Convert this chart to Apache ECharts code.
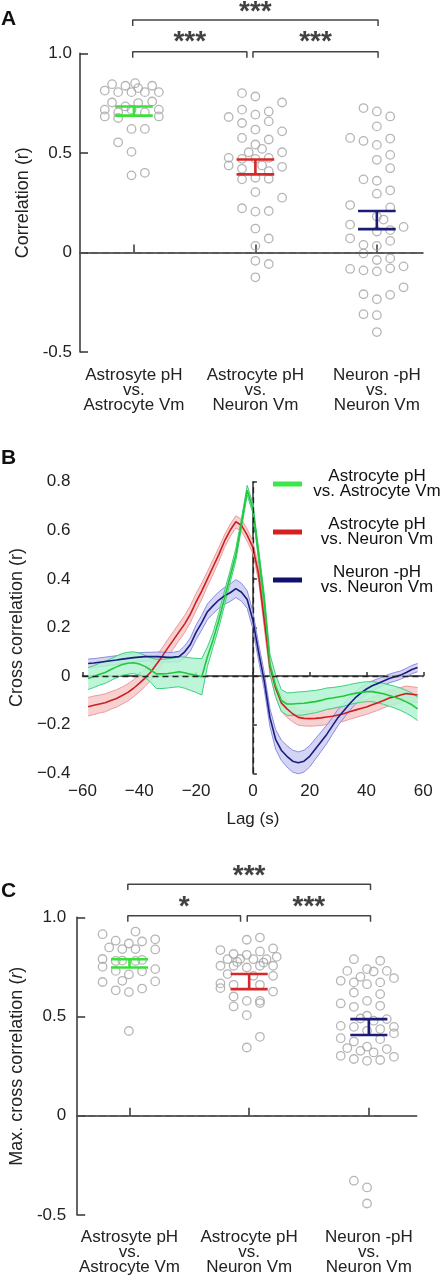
<!DOCTYPE html>
<html><head><meta charset="utf-8">
<script src="https://cdn.jsdelivr.net/npm/echarts@6/dist/echarts.min.js"></script>
<style>html,body{margin:0;padding:0;background:#fff}#c{width:443px;height:1280px}</style>
</head><body><div id="c"></div>
<script>
// ---------- shared ----------
const categoryLabels = ['Astrosyte pH\nvs.\nAstrocyte Vm', 'Astrocyte pH\nvs.\nNeuron Vm', 'Neuron -pH\nvs.\nNeuron Vm'];
const categoryPositions = [1, 2, 3];
const meanColors = ['#3be03b', '#d62828', '#1c1c78'];

// ---------- Panel A: correlation (r); points as [category + jitter, r] ----------
const aAstroAstro = [[0.82,0.845],[0.93,0.837],[1.01,0.85],[1.15,0.837],[0.76,0.813],[0.87,0.805],[0.98,0.805],[1.035,0.825],[1.09,0.805],[1.205,0.805],
  [0.82,0.753],[0.93,0.733],[1.035,0.75],[1.15,0.758],[0.76,0.717],[0.76,0.683],[0.87,0.675],[0.87,0.703],[0.98,0.717],[1.09,0.703],[1.205,0.717],[1.205,0.683],
  [0.98,0.62],[1.09,0.62],[0.87,0.553],[0.98,0.505],[0.98,0.387],[1.09,0.40]];
const aAstroNeuron = [[1.89,0.80],[2,0.783],[2.22,0.753],[1.78,0.68],[1.89,0.717],[2,0.692],[2.11,0.708],[1.89,0.65],[2.11,0.658],[2,0.617],[2.22,0.608],
  [1.89,0.575],[2.11,0.567],[2,0.542],[2.055,0.52],[1.945,0.503],[2.22,0.503],[1.78,0.475],[1.89,0.47],[2,0.47],[2.11,0.475],[1.78,0.437],[2.055,0.437],
  [2.22,0.43],[1.89,0.42],[2.11,0.408],[1.89,0.367],[2,0.375],[2.11,0.37],[2,0.303],[2.22,0.275],[1.89,0.222],[2,0.205],[2.11,0.208],[2,0.12],[2.11,0.07],
  [2,0.033],[2,-0.042],[2.11,-0.058],[2,-0.125]];
const aNeuronNeuron = [[2.89,0.725],[3,0.708],[3.11,0.683],[3,0.633],[2.78,0.575],[2.89,0.56],[3,0.54],[3.11,0.572],[3.11,0.49],[3,0.465],[3.11,0.423],
  [2.89,0.367],[3,0.36],[3,0.295],[3.11,0.312],[2.78,0.238],[3.11,0.226],[3,0.18],[3.055,0.165],[2.78,0.14],[3,0.105],[3.11,0.112],[3.22,0.128],
  [2.78,0.071],[2.89,0.038],[3,0.033],[3.11,0.058],[2.89,-0.005],[3,-0.038],[3.11,-0.03],[2.78,-0.083],[2.89,-0.09],[3,-0.095],[3.11,-0.08],[3.22,-0.07],
  [2.89,-0.21],[3,-0.235],[3.11,-0.213],[3.22,-0.175],[2.89,-0.31],[3,-0.315],[3,-0.40]];
const aSemHigh = [0.733, 0.467, 0.208];
const aSemLow = [0.687, 0.392, 0.117];
const aBrackets = [
  {x1: 0.99, x2: 3.01, y: 1.167, text: '***'},
  {x1: 0.99, x2: 1.93, y: 1.008, text: '***'},
  {x1: 1.98, x2: 3.01, y: 1.008, text: '***'}
];

// ---------- Panel B: cross correlation vs lag ----------
const lags = [-58,-56,-54,-52,-50,-48,-46,-44,-42,-40,-38,-36,-34,-32,-30,-28,-26,-24,-22,-20,-18,-16,-14,-12,-10,-8,-6,-4,-2,0,
  2,4,6,8,10,12,14,16,18,20,22,24,26,28,30,32,34,36,38,40,42,44,46,48,50,52,54,56,58];
const greenMean = [-0.010,-0.002,0.008,0.015,0.027,0.038,0.048,0.053,0.055,0.050,0.040,0.025,0.009,0.009,0.011,0.014,0.018,0.014,0.008,0.003,-0.003,
  0.080,0.150,0.230,0.320,0.410,0.500,0.630,0.765,0.690,0.500,0.310,0.050,-0.040,-0.100,-0.115,-0.115,-0.113,-0.112,-0.108,-0.105,-0.100,-0.093,
  -0.090,-0.086,-0.082,-0.076,-0.071,-0.067,-0.064,-0.064,-0.068,-0.073,-0.080,-0.087,-0.095,-0.106,-0.118,-0.135];
const greenSem = [0.045,0.045,0.045,0.045,0.045,0.045,0.045,0.045,0.045,0.045,0.045,0.05,0.06,0.06,0.06,0.06,0.062,0.064,0.067,0.07,0.075,
  0.04,0.03,0.03,0.03,0.025,0.025,0.02,0.02,0.02,0.025,0.03,0.04,0.045,0.045,0.046,0.047,0.048,0.048,0.047,0.046,0.045,0.044,
  0.043,0.042,0.042,0.041,0.041,0.041,0.041,0.041,0.042,0.043,0.044,0.045,0.046,0.047,0.048,0.048];
const redMean = [-0.126,-0.120,-0.115,-0.110,-0.100,-0.092,-0.080,-0.067,-0.050,-0.030,-0.008,0.016,0.048,0.080,0.115,0.148,0.182,0.215,0.255,0.305,0.350,
  0.400,0.450,0.500,0.555,0.600,0.635,0.620,0.580,0.530,0.420,0.230,0.040,-0.050,-0.110,-0.135,-0.155,-0.170,-0.174,-0.175,-0.174,-0.172,-0.168,
  -0.165,-0.160,-0.155,-0.147,-0.140,-0.133,-0.127,-0.118,-0.110,-0.100,-0.090,-0.085,-0.078,-0.072,-0.075,-0.078];
const redSem = [0.038,0.038,0.037,0.037,0.036,0.036,0.035,0.035,0.035,0.035,0.035,0.035,0.035,0.035,0.035,0.035,0.035,0.035,0.035,0.035,0.033,
  0.03,0.03,0.028,0.026,0.025,0.025,0.025,0.025,0.025,0.028,0.03,0.032,0.034,0.035,0.035,0.033,0.032,0.031,0.031,0.031,0.031,0.031,
  0.031,0.031,0.031,0.031,0.031,0.031,0.031,0.031,0.031,0.031,0.031,0.031,0.031,0.031,0.031,0.031];
const blueMean = [0.052,0.054,0.057,0.060,0.063,0.066,0.070,0.073,0.076,0.078,0.080,0.080,0.080,0.079,0.077,0.078,0.080,0.100,0.130,0.180,0.220,
  0.265,0.290,0.313,0.330,0.343,0.360,0.345,0.315,0.230,0.100,-0.020,-0.170,-0.260,-0.305,-0.330,-0.350,-0.357,-0.350,-0.330,-0.300,-0.270,-0.240,
  -0.205,-0.170,-0.143,-0.115,-0.090,-0.070,-0.053,-0.040,-0.030,-0.020,-0.010,-0.003,0.004,0.015,0.027,0.035];
const blueSem = [0.018,0.018,0.018,0.018,0.018,0.018,0.018,0.018,0.018,0.018,0.018,0.018,0.019,0.02,0.02,0.02,0.022,0.025,0.027,0.03,0.03,
  0.032,0.033,0.034,0.035,0.036,0.037,0.037,0.036,0.035,0.035,0.035,0.037,0.04,0.042,0.044,0.045,0.045,0.045,0.044,0.042,0.04,0.038,
  0.035,0.033,0.03,0.028,0.026,0.024,0.022,0.02,0.019,0.018,0.018,0.018,0.017,0.017,0.017,0.017];
const bSeriesNames = ['Astrocyte pH vs. Astrocyte Vm', 'Astrocyte pH vs. Neuron Vm', 'Neuron -pH vs. Neuron Vm'];
const bLegendLines = [['Astrocyte pH', 'vs. Astrocyte Vm'], ['Astrocyte pH', 'vs. Neuron Vm'], ['Neuron -pH', 'vs. Neuron Vm']];

// ---------- Panel C: max cross correlation (r) ----------
const cAstroAstro = [[0.775,0.915],[1.05,0.928],[0.885,0.882],[0.995,0.868],[1.105,0.878],[1.215,0.889],[0.83,0.848],[0.94,0.84],[1.05,0.84],[1.215,0.838],
  [0.775,0.79],[0.885,0.78],[0.94,0.782],[1.05,0.78],[1.105,0.785],[0.775,0.751],[0.885,0.73],[0.995,0.712],[1.105,0.728],[1.215,0.739],
  [0.775,0.674],[0.94,0.68],[1.215,0.677],[0.885,0.632],[0.995,0.623],[1.105,0.641],[0.995,0.427]];
const cAstroNeuron = [[1.98,0.887],[2.09,0.898],[1.76,0.835],[1.87,0.815],[1.98,0.811],[2.09,0.828],[2.2,0.843],[2.23,0.801],[1.82,0.789],[1.925,0.79],
  [2.035,0.789],[2.145,0.789],[1.9,0.775],[2.12,0.772],[1.76,0.756],[1.87,0.756],[1.98,0.747],[2.09,0.756],[2.2,0.756],[1.82,0.714],[2.035,0.705],[2.2,0.705],
  [1.76,0.667],[1.87,0.66],[2.09,0.66],[1.76,0.643],[2.2,0.626],[1.87,0.601],[1.98,0.579],[2.09,0.579],[2.09,0.568],[1.87,0.551],[1.98,0.507],
  [2.09,0.398],[1.98,0.344]];
const cNeuronNeuron = [[2.875,0.789],[3.095,0.781],[2.82,0.73],[2.985,0.739],[3.04,0.727],[3.15,0.73],[2.765,0.68],[2.875,0.672],[2.93,0.70],[2.985,0.663],
  [3.095,0.672],[3.21,0.694],[2.875,0.621],[3.095,0.613],[2.765,0.566],[2.875,0.549],[2.985,0.579],[3.095,0.554],[2.985,0.504],[3.04,0.479],[3.15,0.487],
  [2.93,0.49],[2.765,0.453],[2.875,0.448],[2.985,0.428],[3.095,0.437],[3.21,0.448],[2.765,0.391],[2.875,0.374],[3.095,0.386],[3.21,0.415],
  [2.82,0.341],[2.93,0.327],[2.985,0.348],[3.04,0.319],[3.15,0.336],[2.765,0.302],[2.875,0.286],[2.985,0.277],[3.095,0.281],[3.21,0.297],
  [2.875,-0.327],[2.985,-0.361],[2.985,-0.442]];
const cSemHigh = [0.789, 0.714, 0.487];
const cSemLow = [0.747, 0.638, 0.407];
const cBrackets = [
  {x1: 0.986, x2: 3.014, y: 1.167, text: '***'},
  {x1: 0.986, x2: 1.928, y: 1.008, text: '*'},
  {x1: 1.984, x2: 3.014, y: 1.008, text: '***'}
];
const cZeroLineEnd = 3.11;

// ---------- build ----------
const FONT = '"Liberation Sans", Arial, Helvetica, sans-serif';
const AX = {color: '#333', width: 1.5};
const fmtAC = v => v === 0 ? '0' : v.toFixed(1);
const fmtMinus = v => v === 0 ? '0' : (v < 0 ? '\u2212' : '') + Math.abs(v);
const fmtB = v => v === 0 ? '0' : (v < 0 ? '\u2212' : '') + Math.abs(v).toFixed(1);

function dotSeries(g, pts) {
  return {type: 'scatter', xAxisIndex: g, yAxisIndex: g, data: pts, symbol: 'circle', symbolSize: 8.5, silent: true, z: 3,
    itemStyle: {color: 'rgba(0,0,0,0)', borderColor: '#a4a4a4', borderWidth: 1.3}};
}
function errSeries(g, hi, lo) {
  return {type: 'custom', xAxisIndex: g, yAxisIndex: g, silent: true, z: 10,
    data: categoryPositions.map((x, i) => [x, hi[i], lo[i]]),
    renderItem(params, api) {
      const x = api.value(0), h = api.value(1), l = api.value(2), w = 0.155;
      const a = api.coord([x - w, h]), b = api.coord([x + w, h]);
      const c = api.coord([x - w, l]), d = api.coord([x + w, l]);
      const e = api.coord([x, h]), f = api.coord([x, l]);
      const st = {stroke: meanColors[params.dataIndex], lineWidth: 2.6};
      return {type: 'group', children: [
        {type: 'line', shape: {x1: a[0], y1: a[1], x2: b[0], y2: b[1]}, style: st},
        {type: 'line', shape: {x1: c[0], y1: c[1], x2: d[0], y2: d[1]}, style: st},
        {type: 'line', shape: {x1: e[0], y1: e[1], x2: f[0], y2: f[1]}, style: st}
      ]};
    }};
}
function bracketSeries(g, brs) {
  const out = [];
  brs.forEach(b => {
    out.push({type: 'line', xAxisIndex: g, yAxisIndex: g, clip: false, silent: true, symbol: 'none', z: 5,
      lineStyle: {color: '#444', width: 1.5},
      data: [[b.x1, b.y - 0.03], [b.x1, b.y], [b.x2, b.y], [b.x2, b.y - 0.03]]});
  });
  out.push({type: 'scatter', xAxisIndex: g, yAxisIndex: g, clip: false, silent: true, symbolSize: 1, z: 6,
    itemStyle: {color: 'rgba(0,0,0,0)'},
    label: {show: true, position: 'inside', formatter: p => p.name, fontSize: 28, fontWeight: 'bold', color: '#111', fontFamily: FONT},
    data: brs.map(b => ({name: b.text, value: [(b.x1 + b.x2) / 2, b.y + (b.y > 1.1 ? 0.04 : 0.045)]}))});
  return out;
}
function catXAxis(g, min, max, margin) {
  return {gridIndex: g, type: 'value', min: min, max: max,
    axisLine: {show: true, lineStyle: AX}, splitLine: {show: false},
    axisTick: {show: true, inside: true, length: 8, lineStyle: AX, customValues: categoryPositions},
    axisLabel: {customValues: categoryPositions, formatter: v => categoryLabels[Math.round(v) - 1],
      fontSize: 17, lineHeight: 15, color: '#222', margin: margin, fontFamily: FONT}};
}
function corrYAxis(g, name, gap, margin) {
  return {gridIndex: g, type: 'value', min: -0.5, max: 1.0, interval: 0.5,
    axisLine: {show: true, lineStyle: AX}, splitLine: {show: false},
    axisTick: {show: true, inside: true, length: 8, lineStyle: AX},
    axisLabel: {formatter: fmtAC, fontSize: 17, color: '#222', margin: margin, fontFamily: FONT},
    name: name, nameLocation: 'middle', nameGap: gap,
    nameTextStyle: {fontSize: 18, color: '#222', fontFamily: FONT, rich: {i: {fontStyle: 'italic', fontSize: 18, fontFamily: FONT}}}};
}
// SEM band drawn as one polygon through the axis scales
function bandSeries(mean, sem, edge, fill) {
  return {type: 'custom', xAxisIndex: 1, yAxisIndex: 1, silent: true, z: 2,
    data: lags.map((l, i) => [l, mean[i] - sem[i], mean[i] + sem[i]]),
    renderItem(params, api) {
      if (params.dataIndex !== 0) return null;
      const up = lags.map((l, i) => api.coord([l, mean[i] + sem[i]]));
      const lo = lags.map((l, i) => api.coord([l, mean[i] - sem[i]]));
      return {type: 'group', children: [
        {type: 'polygon', shape: {points: up.concat(lo.slice().reverse())}, style: {fill: fill, opacity: 0.85}},
        {type: 'polyline', shape: {points: up}, style: {stroke: edge, lineWidth: 1, fill: null}},
        {type: 'polyline', shape: {points: lo}, style: {stroke: edge, lineWidth: 1, fill: null}}
      ]};
    }};
}
function meanLine(name, mean, lineColor, legendColor) {
  return {name: name, type: 'line', xAxisIndex: 1, yAxisIndex: 1, symbol: 'none', silent: true, z: 4,
    lineStyle: {color: lineColor, width: 1.6}, itemStyle: {color: legendColor},
    data: lags.map((l, i) => [l, mean[i]])};
}

const series = [];
// Panel A
const sA1 = dotSeries(0, aAstroAstro);
sA1.markLine = {silent: true, symbol: 'none', label: {show: false}, lineStyle: {type: [7, 4], color: '#555', width: 1.5}, data: [{yAxis: 0}]};
series.push(sA1, dotSeries(0, aAstroNeuron), dotSeries(0, aNeuronNeuron), errSeries(0, aSemHigh, aSemLow));
series.push(...bracketSeries(0, aBrackets));
// Panel B
series.push(bandSeries(redMean, redSem, '#ee9a9a', '#f6c9c9'));
series.push(bandSeries(blueMean, blueSem, '#8c8ce0', '#cdcdf2'));
series.push(bandSeries(greenMean, greenSem, '#3ecf7c', '#b2f3d2'));
const mRed = meanLine(bSeriesNames[1], redMean, '#cc2020', '#d62020');
const mBlue = meanLine(bSeriesNames[2], blueMean, '#1c1c80', '#10106e');
const mGreen = meanLine(bSeriesNames[0], greenMean, '#22c83a', '#3be84a');
mRed.markLine = {silent: true, symbol: 'none', label: {show: false}, lineStyle: {type: [6, 4], color: '#222', width: 1.3}, data: [{yAxis: 0}, {xAxis: 0}]};
series.push(mRed, mBlue, mGreen);
// Panel C
const sC1 = dotSeries(2, cAstroAstro);
sC1.markLine = {silent: true, symbol: 'none', label: {show: false}, lineStyle: {type: [7, 4], color: '#555', width: 1.5},
  data: [[{coord: [0.563, 0]}, {coord: [cZeroLineEnd, 0]}]]};
series.push(sC1, dotSeries(2, cAstroNeuron), dotSeries(2, cNeuronNeuron), errSeries(2, cSemHigh, cSemLow));
series.push(...bracketSeries(2, cBrackets));

const option = {
  animation: false,
  backgroundColor: '#fff',
  textStyle: {fontFamily: FONT},
  title: [
    {text: 'A', left: 1, top: 9, padding: 0, textStyle: {fontSize: 21, fontWeight: 'bold', color: '#111', fontFamily: FONT}},
    {text: 'B', left: 1, top: 448, padding: 0, textStyle: {fontSize: 21, fontWeight: 'bold', color: '#111', fontFamily: FONT}},
    {text: 'C', left: 1, top: 881, padding: 0, textStyle: {fontSize: 21, fontWeight: 'bold', color: '#111', fontFamily: FONT}}
  ],
  legend: {
    data: bSeriesNames, orient: 'vertical', left: 273, top: 468, padding: 0,
    itemWidth: 29, itemHeight: 5, itemGap: 16, icon: 'rect', selectedMode: false,
    formatter: name => bLegendLines[bSeriesNames.indexOf(name)].map(s => '{a|' + s + '}').join('\n'),
    textStyle: {fontSize: 17, lineHeight: 15, color: '#111', fontFamily: FONT,
      rich: {a: {width: 140, align: 'center', fontSize: 17, lineHeight: 15, color: '#111', fontFamily: FONT}}}
  },
  grid: [
    {left: 80, top: 53.3, width: 343, height: 298.7},
    {left: 80, top: 481.7, width: 343.3, height: 291.6},
    {left: 72.7, top: 917.3, width: 344, height: 297.7}
  ],
  xAxis: [
    catXAxis(0, 0.556, 3.38, 16),
    {gridIndex: 1, type: 'value', min: -60, max: 60, interval: 20,
      axisLine: {show: true, lineStyle: AX}, splitLine: {show: false},
      axisTick: {show: true, inside: true, length: 4, lineStyle: AX},
      axisLabel: {formatter: fmtMinus, fontSize: 17, color: '#222', margin: 10, fontFamily: FONT},
      name: 'Lag (s)', nameLocation: 'middle', nameGap: 38, nameTextStyle: {fontSize: 17, color: '#222', fontFamily: FONT}},
    catXAxis(2, 0.563, 3.40, 15)
  ],
  yAxis: [
    corrYAxis(0, 'Correlation (r)', 48, 8),
    {gridIndex: 1, type: 'value', min: -0.4, max: 0.8, interval: 0.2,
      axisLine: {show: true, lineStyle: AX}, splitLine: {show: false},
      axisTick: {show: true, inside: true, length: 4, lineStyle: AX},
      axisLabel: {formatter: fmtB, fontSize: 17, color: '#222', margin: 12, fontFamily: FONT},
      name: 'Cross correlation (r)', nameLocation: 'middle', nameGap: 47, nameTextStyle: {fontSize: 18, color: '#222', fontFamily: FONT}},
    corrYAxis(2, 'Max. cross correlation ({i|r})', 50, 11)
  ],
  series: series
};
const chart = echarts.init(document.getElementById('c'), null, {renderer: 'canvas'});
chart.setOption(option);
</script>
</body></html>
